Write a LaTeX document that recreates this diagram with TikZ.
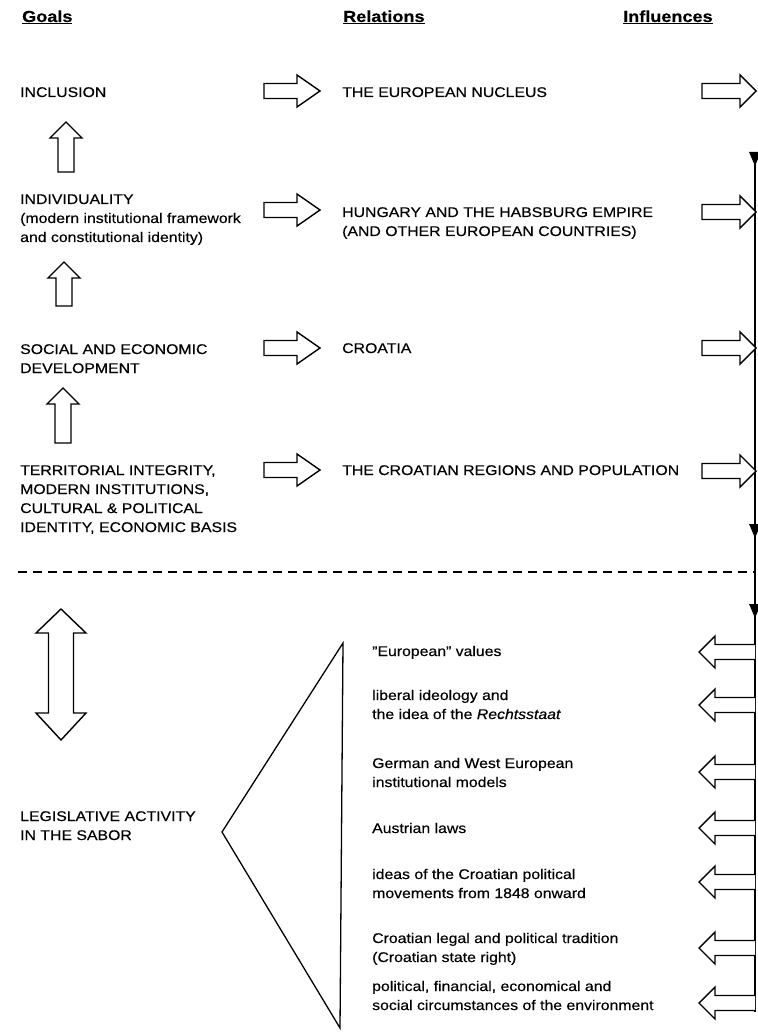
\documentclass[tikz,border=0pt]{standalone}
\usepackage{fontspec}
\setmainfont{Liberation Sans}[FakeStretch=1.13,FakeBold=0.35]
\newcommand\mlines[1]{\begin{tabular}[t]{@{}l@{}}#1\end{tabular}}
\tikzset{
  txt/.style={anchor=base west, inner sep=0pt, font=\fontsize{14}{19}\selectfont},
  hdr/.style={anchor=base west, inner sep=0pt, font=\fontsize{16}{19}\selectfont\bfseries},
  blk/.style={draw, line width=1.4pt, fill=white, line join=miter},
  flow/.style={line width=1.5pt},
  tip/.style={fill=black, draw=none},
  pics/rarr/.style={code={\draw[blk] (-56,-7.5) -- (-23,-7.5) -- (-23,-16) -- (0,0) -- (-23,16) -- (-23,7.5) -- (-56,7.5) -- cycle;}},
  pics/irarr/.style={code={\draw[blk] (-54,-7.5) -- (-16,-7.5) -- (-16,-16) -- (0,0) -- (-16,16) -- (-16,7.5) -- (-54,7.5) -- cycle;}},
  pics/larr/.style={code={\draw[blk] (56,-7.5) -- (16,-7.5) -- (16,-16) -- (0,0) -- (16,16) -- (16,7.5) -- (56,7.5);}},
  pics/uarr/.style={code={\draw[blk] (-8,#1) -- (-8,16) -- (-16,16) -- (0,0) -- (16,16) -- (8,16) -- (8,#1) -- cycle;}},
  pics/dtip/.style={code={\fill[tip] (-6,-8) -- (6,-8) -- (0,6) -- cycle;}}
}
\begin{document}
\begin{tikzpicture}[x=1pt,y=-1pt]
\useasboundingbox (0,0) rectangle (757,1032);
% headers
\node[hdr] (hg) at (22,22) {\underline{Goals}};
\node[hdr] (hr) at (343,22) {\underline{Relations}};
\node[hdr] (hi) at (623,22) {\underline{Influences}};
% goals
\node[txt] (g1) at (20,97) {INCLUSION};
\node[txt] (g2) at (20,204) {\mlines{INDIVIDUALITY\\(modern institutional framework\\and constitutional identity)}};
\node[txt] (g3) at (20,354) {\mlines{SOCIAL AND ECONOMIC\\DEVELOPMENT}};
\node[txt] (g4) at (20,475) {\mlines{TERRITORIAL INTEGRITY,\\MODERN INSTITUTIONS,\\CULTURAL \& POLITICAL\\IDENTITY, ECONOMIC BASIS}};
\node[txt] (g5) at (20,821) {\mlines{LEGISLATIVE ACTIVITY\\IN THE SABOR}};
% relations
\node[txt] (r1) at (342,97) {THE EUROPEAN NUCLEUS};
\node[txt] (r2) at (342,217) {\mlines{HUNGARY AND THE HABSBURG EMPIRE\\(AND OTHER EUROPEAN COUNTRIES)}};
\node[txt] (r3) at (342,353) {CROATIA};
\node[txt] (r4) at (342,475) {THE CROATIAN REGIONS AND POPULATION};
% influences
\node[txt] (i1) at (372,656) {"European" values};
\node[txt] (i2) at (372,700) {\mlines{liberal ideology and\\the idea of the \textit{Rechtsstaat}}};
\node[txt] (i3) at (372,768) {\mlines{German and West European\\institutional models}};
\node[txt] (i4) at (372,833) {Austrian laws};
\node[txt] (i5) at (372,879) {\mlines{ideas of the Croatian political\\movements from 1848 onward}};
\node[txt] (i6) at (372,943) {\mlines{Croatian legal and political tradition\\(Croatian state right)}};
\node[txt] (i7) at (372,991) {\mlines{political, financial, economical and\\social circumstances of the environment}};
% up arrows between goals
\pic at (66,122) {uarr=50};
\pic at (64,262) {uarr=44};
\pic at (63,388) {uarr=55};
% double arrow
\draw[blk] (61,609) -- (86,633) -- (73.5,633) -- (73.5,713) -- (86,713) -- (61,740)
  -- (36,713) -- (48.5,713) -- (48.5,633) -- (36,633) -- cycle;
% relation arrows
\foreach \y in {91,210,348,470} { \pic at (320,\y) {rarr}; }
% vertical influence line
\coordinate (vt) at (755,160);
\coordinate (vb) at (755,1012);
\draw[flow] (vt) -- (vb);
\foreach \y in {91,212,348,471} { \pic at (756,\y) {irarr}; }
\foreach \y in {160,532,612} { \pic at (755,\y) {dtip}; }
\foreach \y in {652,705,772,828,882,948,1003} { \pic at (699,\y) {larr}; }
% dashed separator
\coordinate (dl) at (18,572);
\coordinate (dr) at (755,572);
\draw[line width=1.3pt, dash pattern=on 9pt off 6pt] (dl) -- (dr);
% triangle
\coordinate (ta) at (343,643);
\coordinate (tb) at (222,832);
\coordinate (tc) at (340,1028);
\draw[line width=1.3pt, line join=miter] (ta) -- (tb) -- (tc) -- cycle;
\end{tikzpicture}
\end{document}
